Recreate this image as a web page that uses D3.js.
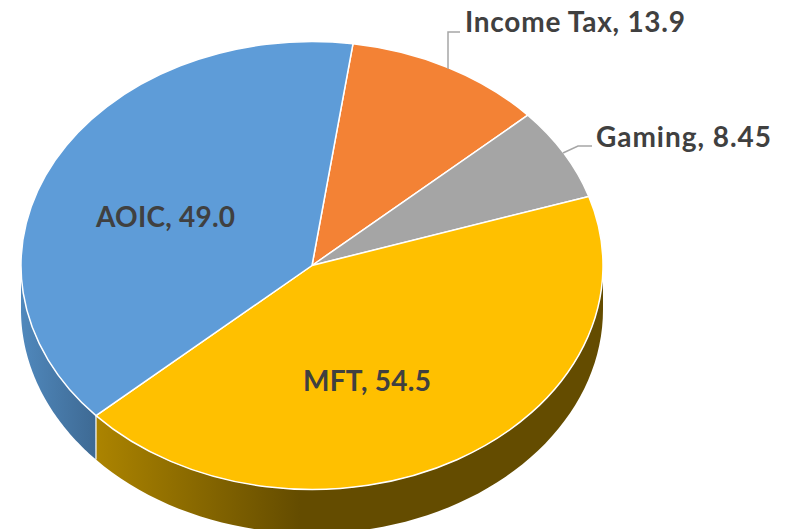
<!DOCTYPE html>
<html><head><meta charset="utf-8">
<script src="https://cdn.jsdelivr.net/npm/d3@7"></script>
<style>html,body{margin:0;background:#fff}svg{display:block}text{font-family:Lato,sans-serif;font-weight:700;fill:#404040}</style>
</head><body><svg id="c" width="786" height="529"></svg>
<script>
const categories=["Income Tax","Gaming","MFT","AOIC"];
const values=[13.9,8.45,54.5,49.0];
const valueLabels=["13.9","8.45","54.5","49.0"];
const topColors=["#f38235","#a5a5a5","#ffc000","#5e9cd8"];
const cx=312,cy=265.5,rx=291,ry=224,depth=44,fontSize=28;
const start=8.1*Math.PI/180;
const svg=d3.select("#c");
const defs=svg.append("defs");
const lg=(id,x1,x2,stops)=>{const g=defs.append("linearGradient").attr("id",id).attr("gradientUnits","userSpaceOnUse").attr("x1",x1).attr("x2",x2).attr("y1",0).attr("y2",0);
  stops.forEach(([o,c])=>g.append("stop").attr("offset",o).attr("stop-color",c));};
lg("wallAOIC",21,95,[[0,"#5088bc"],[1,"#3e6a94"]]);
lg("wallMFT",95,300,[[0,"#ac8400"],[1,"#644c00"]]);
const pie=d3.pie().sort(null).startAngle(start).endAngle(start+2*Math.PI);
const arcs=pie(values);
const px=a=>cx+rx*Math.sin(a), py=a=>cy-ry*Math.cos(a);
const wallFill={MFT:"url(#wallMFT)",AOIC:"url(#wallAOIC)"};
const line=d3.line();
arcs.forEach((d,i)=>{
  const lo=Math.max(d.startAngle,Math.PI/2),hi=Math.min(d.endAngle,3*Math.PI/2);
  if(hi<=lo) return;
  const as=d3.range(0,61).map(k=>lo+(hi-lo)*k/60);
  const pts=as.map(a=>[px(a),py(a)]).concat(as.slice().reverse().map(a=>[px(a),py(a)+depth]));
  svg.append("path").attr("d",line(pts)+"Z").attr("fill",wallFill[categories[i]]);
});
const seam=arcs[2].endAngle;
svg.append("path").attr("d",line([[px(seam),py(seam)],[px(seam),py(seam)+depth]])).attr("stroke","#fff").attr("stroke-width",1.2).attr("fill","none");
const arc=d3.arc().innerRadius(0).outerRadius(rx);
svg.append("g").attr("transform",`translate(${cx},${cy}) scale(1,${ry/rx})`)
  .selectAll("path").data(arcs).join("path")
  .attr("d",arc).attr("fill",(d,i)=>topColors[i])
  .attr("stroke","#fff").attr("stroke-width",1.5).attr("stroke-linejoin","round").attr("vector-effect","non-scaling-stroke");
const leaders=[[[448,69],[448,32],[460,32]],[[563,153],[578,146],[592,146]]];
leaders.forEach(l=>svg.append("path").attr("d",line(l)).attr("fill","none").attr("stroke","#a6a6a6").attr("stroke-width",1.5));
const labelPos=[[465,32],[596,147],[303,391],[96,227]];
const labelWidths=[220,175,128,139];
categories.forEach((c,i)=>svg.append("text").attr("x",labelPos[i][0]).attr("y",labelPos[i][1]).attr("font-size",fontSize)
  .attr("textLength",labelWidths[i]).attr("lengthAdjust","spacing").text(`${c}, ${valueLabels[i]}`));
</script></body></html>
